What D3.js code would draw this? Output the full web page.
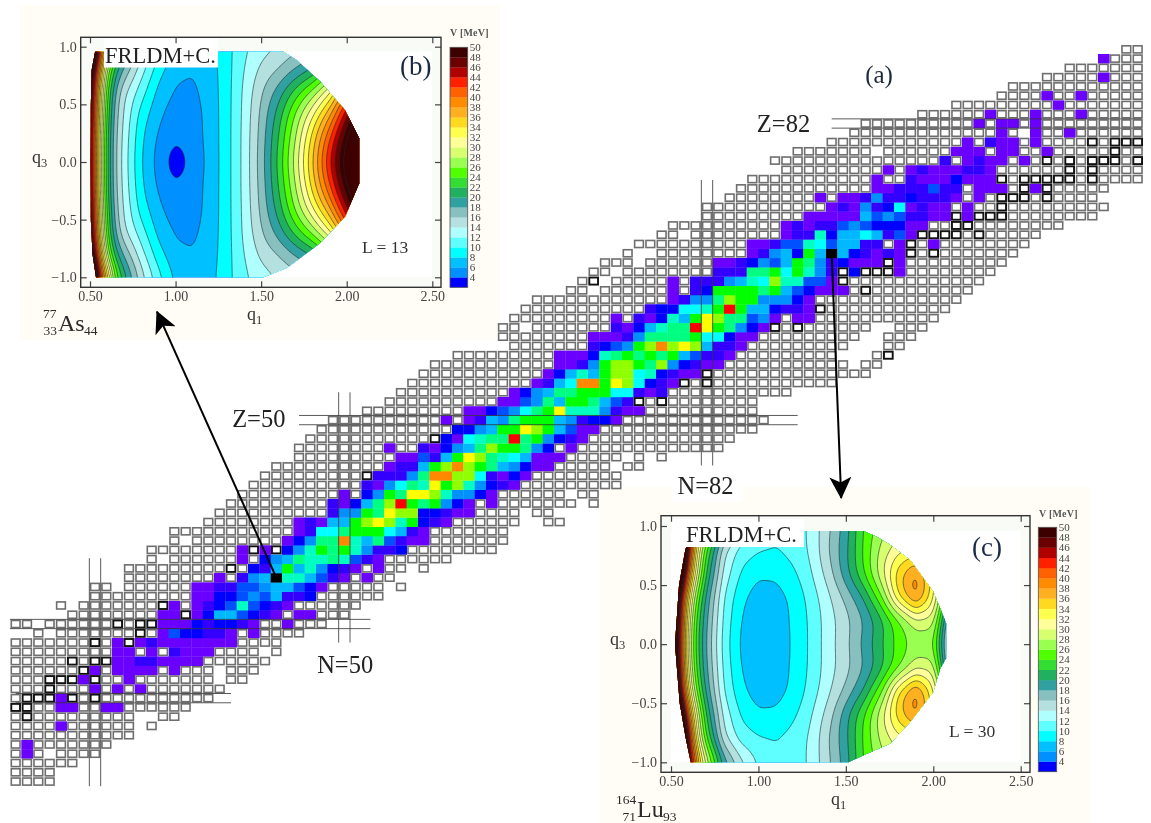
<!DOCTYPE html>
<html><head><meta charset="utf-8">
<style>html,body{margin:0;padding:0;background:#fff}svg{display:block;filter:blur(.4px)}text{font-family:"Liberation Serif",serif}</style>
<script src="https://cdn.jsdelivr.net/npm/d3@7"></script></head><body>
<svg id="fig" width="1151" height="823"></svg>
<script>
// ---------- main chart: one row per proton number Z: [Z, first N, cell codes]
// '-' measured nucleus, '#' highlighted nucleus, ' ' none, letters = value class, K = selected nucleus
const nuclideRows = [
[11,21,"----"],[12,21,"----"],[13,21,"------"],[14,21,"-p- ----"],[15,21,"-p-------"],[16,21,"-----------"],
[17,21,"----p------ -"],[18,21,"-#---------  --"],[19,21,"##--pp--pp------"],[20,21,"-###p#-#----------"],
[21,21,"---#---p-p-p-------"],[22,21,"---###p#--p------- --"],[23,21,"------#p-pppp-p--- ---"],
[24,21,"-----#-##ppiipppp------"],[25,21,"---------pp-p-ippp---- -"],[26,21,"-------#-p#pippppppp----"],
[27,23,"- -------#-pabbiip-p----"],[28,21,"-- ------#-##pppbibbip--p---"],[29,26,"--------pp#pbssabip-pp---"],
[30,25,"- -------#p-pibatabip------"],[31,28,"---------ppbbazasiib------"],[32,28,"-- ------ppiiaazssabp----- -"],
[33,31,"--------p-izsKttsaip-p--"],[34,31,"---------#-bisgstzbip-p-- -"],[35,33,"- ------p-bzsmttmtaip------"],
[36,33,"--------p#p#bztgmgtziib--------"],[37,35,"- --------pbzmmotsmaipp-------"],
[38,35,"-----------piccmgggcsip-------"],[39,38,"--------pipssglyltgbip------  --"],
[40,39,"----------izzgmyllbbipp---- --"],[41,40,"---------ipbsmlrgmgzbp-p------- -"],
[42,41,"---------p-bzgmyyltzzbp------ --"],[43,42,"----------ipzcmtygltzbip---------"],
[44,43,"---------#iiizmoollcipbp--------"],[45,44,"----------piisglolgmszbpp----- --"],
[46,46,"---------ppaisgylmtcsppp----- - -"],[47,46,"--------p--ipbzsmlggmzb-p-------------"],
[48,47,"-----------#bpctmmrmgzbip-------------"],[49,48,"------------bbzsggylgsapp--------------"],
[50,49,"----------p-piszmgggszibbp-------------"],[51,52,"---------ppbazcmgytttzipp----------"],
[52,54,"----------ppazmsggmsai#-#--------"],[53,55,"----------pbzsmmgggccipi-----------"],
[54,56,"-----------piscoogylcbip#-#-----------"],[55,57,"-----------pbstsgllctbipp#--------------"],
[56,58,"-----------ppizgllgmlzbipp----------- --"],[57,60,"---------pppbtmgmgmgsaiip---------   -#"],
[58,65,"-------ibazglolylsiip---------   --"],[59,64,"--------pppizmmmmgccbpp---------  ---"],
[60,64,"-- -------ipbstmmrygmzbp#-#------  ---"],[61,65,"---------p-ipbtsgylmmazp-pp-----------"],
[62,66,"-----------ibbcctgrgssbiip#-----------"],[63,67,"------------pizzmlggzzzbp-------------"],
[64,70,"-- ------p-ibggggmgsabppp-#---------"],[65,71,"-# -----p-iiizstclttaap#------------"],
[66,72,"-- --------iiimmgcgtzi#b###p--------"],[67,73,"--- ------ppibzasgmzibppp#p---------"],
[68,75,"-  --------pizsbgsKsbipip#-#-------"],[69,76,"----------ppiaatcassii-p#-p--------"],
[70,78,"-- --------piitbsscsiap####-#-----"],[71,79,"----------pipiiazabbbpp--##--------"],
[72,82,"---------pppppsazaiipp#p###--------"],[73,82,"-----------pipzibcpipp-p--#---------"],
[74,84,"--------p-ppiziibiiip-p-###-#----"],[75,85,"------------ppiiiaii-ppp-#p#-----"],
[76,86,"-----------p--ipppbppp#-#####-#----"],[77,89,"---------p-pipppiip------#-#----"],
[78,88,"---------------i-pipp-p-#-#-###-#"],[79,90,"------- ------ppp-pp--p-----#--"],
[80,93,"------------p-ipp-p----#-###"],[81,95,"-------------p- p--p------"],
[82,96,"----------p-pp-p---------"],[83,101,"------p---p---p-----"],[84,104,"---------p-------"],
[85,108,"----p--p-----"],[86,109,"------------"],[87,112,"-----p---"],[88,114,"-------"],[89,117,"p---"],[90,119,"--"]
];
const valueCodes  = ["p","i","b","a","z","s","c","t","m","g","l","y","o","r","K"];
const valueColors = ["#6a00ff","#3300ff","#0000ff","#0050ff","#0090ff","#00b8ff","#00ffff","#00ffc0","#00ff80","#00ff00","#90ff00","#ffff00","#ff8800","#ff0000","#000000"];
const shellN = [{n:28,y0:10.5,y1:35.1},{n:50,y0:26,y1:53},{n:82,y0:45.1,y1:75.9}];
const shellZ = [{z:20,x0:21,x1:40},{z:28,x0:20.5,x1:52.3},{z:50,x0:46,x1:90},{z:82,x0:93,x1:120.4}];
const arrows = [{from:[44,33],to:[33.47,61.7]},{from:[93,68],to:[93.84,41.6]}];
const mainLabels = [{t:"Z=50",n:40.1,z:49.25},{t:"Z=82",n:86.4,z:81.07},{t:"N=50",n:47.6,z:22.7},{t:"N=82",n:79.4,z:42},{t:"(a)",n:95.96,z:86.4}];

// ---------- contour panels
const levels = d3.range(4,52,2);
const bandColors = ["#0000ff","#0090ff","#00c0ff","#00ffff","#60ffff","#b0ffff","#b4e0e0","#88c0c0","#30a0a0","#20b060","#33dd33","#50ff00","#99ff50","#d8ff70","#ffff99","#ffff50","#ffd820","#ffb020","#ff8c00","#ff6000","#ff2000","#b00000","#6a0000","#3c0000"];
const q1Nodes = [.5,.55,.6,.65,.7,.8,.9,1,1.1,1.2,1.3,1.4,1.5,1.6,1.7,1.8,1.9,2,2.1];
const q3Nodes = [0,.2,.4,.6,.8,1];
const potentialB = [
[50,34,22,16,13,8,5.2,2.6,4.6,6.6,9.2,12.6,17,22.5,29,36,44,52,60],
[50,34,22,16.2,13.2,8.3,5.6,4.4,5,6.7,9.2,12.6,16.8,22,28,35,42,50,58],
[51,35,23,16.6,13.6,9,6.4,4.8,5.1,6.7,9.2,12.5,16.5,21,26.5,32,38,46,54],
[52,36,24,17.5,14.2,10.8,7.3,5.8,5.6,6.8,9.2,12.4,15.8,19,23,27,32,40,48],
[54,40,27,20.5,17.5,12.8,8.8,6.4,6.1,7,9.2,12,14.5,16,18,20,24,30,38],
[70,46,36,25.5,21,15,10.8,7.6,6.9,7.3,9.3,11.5,13,14,15,16,18,22,30]];
const potentialC = [
[60,45,30,22.5,18,11.2,7.6,6.6,6.9,8.2,10.4,13.1,15.5,18.6,21.8,24.8,26.5,26,12],
[62,46,31,23,18.5,11.6,7.9,6.8,7,8.3,10.4,13,15.2,17.8,21,25,29,29,14],
[70,47,34,25,19.5,12,8.5,6.9,7.2,8.4,10.8,13.5,16.5,20,25.5,34.5,39.5,33,20],
[80,58,40,30,22,13.5,9.8,8.4,8.4,9.6,11.8,15,19.4,24,29.5,35.5,39,33,20],
[90,70,45,32,24,14.5,11,10.2,10,10.8,12.4,16,19.5,24.3,28.5,31,32,30,25],
[80,65,50,38,30,19.5,14.8,11.8,10.5,10.6,12.5,15.5,19,24,27,29,30,30,30]];
const domainB = [[.53,.957],[.51,.8],[.505,.5],[.503,0],[.505,-.5],[.515,-.8],[.535,-1],[1.512,-1],[1.65,-.92],[1.843,-.705],[1.99,-.474],[2.073,-.185],[2.073,.205],[1.99,.45],[1.843,.7],[1.707,.884],[1.63,.957]];
const domainC = [[.62,.957],[.582,.8],[.546,.5],[.523,0],[.55,-.5],[.585,-.8],[.613,-1],[1.515,-1],[1.62,-.927],[1.754,-.84],[1.868,-.658],[2,-.404],[2.04,-.206],[2.074,-.12],[2.074,.175],[2.04,.302],[2,.443],[1.868,.712],[1.754,.839],[1.677,.91],[1.6,.957]];
const q1Ticks = [.5,1,1.5,2,2.5];
const q3Ticks = [-1,-.5,0,.5,1];

const panels = [
 {id:"b",V:potentialB,dom:domainB,bg:[20,5,480,335],frame:[80.7,37.3,441,287.3],q1:[90,432.3],q3:[277.3,46.7],
  bar:[450,467.7,47.3,287.3],barTitle:[450,35.5],
  mask:[104,38.5,114,29],frldm:[105,63],tag:["(b)",400,75],ell:["L = 13",362,253],
  q3lab:[32,163],q1lab:[247,320],
  iso:{A:"77",Z:"33",S:"As",N:"44",ax:43,as:58,an:84,ab:318,sb:331,zb:335}},
 {id:"c",V:potentialC,dom:domainC,bg:[600,487,490,336],frame:[661,515.7,1030,772.3],q1:[831,805],q3:[762.3,526],
  bar:[1038.3,1056.7,527.3,771.7],barTitle:[1039,517],
  mask:[672,519,132,28],frldm:[686,542.3],tag:["(c)",972,556],ell:["L = 30",949,736.7],
  q3lab:[610,645],q1lab:[831,805],
  iso:{A:"164",Z:"71",S:"Lu",N:"93",ax:616,as:637,an:663,ab:804,sb:816.7,zb:821}}
];
panels[1].q1=[671,1020.7];

const svg = d3.select("#fig");
const x = d3.scaleLinear([28,82],[95,707]);
const y = d3.scaleLinear([28,82],[624,123.5]);
const cw = x(1)-x(0), ch = y(0)-y(1);
const colour = d3.scaleOrdinal(valueCodes,valueColors);

// cream panel backgrounds first
panels.forEach(p=>svg.append("rect").attr("x",p.bg[0]).attr("y",p.bg[1]).attr("width",p.bg[2]).attr("height",p.bg[3]).attr("fill","#fffdf6"));
svg.append("rect").attr("x",x(79.4)-5).attr("y",y(42)-24).attr("width",70).attr("height",32).attr("fill","#fff");

// main chart cells
const cells = nuclideRows.flatMap(([z,n0,s])=>Array.from(s,(c,i)=>({z,n:n0+i,c})).filter(d=>d.c!==" "));
const g = svg.append("g");
g.selectAll(".filled").data(cells.filter(d=>valueCodes.includes(d.c))).join("rect").attr("class","filled")
 .attr("x",d=>x(d.n)-cw/2).attr("y",d=>y(d.z)-ch/2).attr("width",cw+.3).attr("height",ch+.3).attr("fill",d=>colour(d.c));
g.selectAll(".box").data(cells.filter(d=>d.c==="-"||d.c==="#")).join("rect").attr("class","box")
 .attr("x",d=>x(d.n)-cw/2+1.3).attr("y",d=>y(d.z)-ch/2+1.1).attr("width",cw-2.6).attr("height",ch-2.2)
 .attr("fill","#fff").attr("stroke",d=>d.c==="#"?"#111":"#6e6e6e").attr("stroke-width",d=>d.c==="#"?1.9:1.6);

// shell closure lines
g.selectAll(".ln").data(shellN.flatMap(s=>[-.5,.5].map(o=>({...s,o})))).join("line").attr("class","ln")
 .attr("x1",d=>x(d.n+d.o)).attr("x2",d=>x(d.n+d.o)).attr("y1",d=>y(d.y1)).attr("y2",d=>y(d.y0))
 .attr("stroke","#333").attr("stroke-width",1).attr("opacity",.8);
g.selectAll(".lz").data(shellZ.flatMap(s=>[-.5,.5].map(o=>({...s,o})))).join("line").attr("class","lz")
 .attr("y1",d=>y(d.z+d.o)).attr("y2",d=>y(d.z+d.o)).attr("x1",d=>x(d.x0)).attr("x2",d=>x(d.x1))
 .attr("stroke","#333").attr("stroke-width",1).attr("opacity",.8);

g.selectAll(".ml").data(mainLabels).join("text").attr("class","ml").attr("x",d=>x(d.n)).attr("y",d=>y(d.z))
 .attr("font-size",d=>d.t==="(a)"?25:24.5).attr("fill",d=>d.t==="(a)"?"#1c2a3c":"#222").text(d=>d.t);

// contour panels
function lookup(V,q1,q3){
  const a=Math.abs(q3), clampI=(arr,v)=>{const i=Math.min(arr.length-2,Math.max(0,d3.bisectRight(arr,v)-1));return [i,Math.max(0,Math.min(1,(v-arr[i])/(arr[i+1]-arr[i])))]};
  const [i,t]=clampI(q1Nodes,q1),[j,u]=clampI(q3Nodes,a);
  return (V[j][i]*(1-t)+V[j][i+1]*t)*(1-u)+(V[j+1][i]*(1-t)+V[j+1][i+1]*t)*u;
}
panels.forEach(p=>{
  const gp=svg.append("g");
  const X=d3.scaleLinear([.5,2.5],p.q1), Y=d3.scaleLinear([-1,1],p.q3);
  const [fx0,fy0,fx1,fy1]=p.frame;
  gp.append("rect").attr("x",fx0).attr("y",fy0).attr("width",fx1-fx0).attr("height",fy1-fy0).attr("fill","#f9fbf6");
  gp.append("rect").attr("x",X(.5)).attr("y",Y(.96)).attr("width",X(2.5)-X(.5)).attr("height",Y(-1)-Y(.96)).attr("fill","#fff");
  // fine grid from the values
  const nx=171,ny=221,q1At=i=>.45+i*.01,q3At=j=>-1.1+j*.01;
  let data=new Float64Array(nx*ny);
  for(let j=0;j<ny;j++)for(let i=0;i<nx;i++)data[j*nx+i]=lookup(p.V,q1At(i),q3At(j));
  if(d3.blur2){d3.blur2({data,width:nx,height:ny},1.5,7);}
  const contours=d3.contours().size([nx,ny]).thresholds(levels)(data);
  const proj=d3.geoTransform({point(a,b){this.stream.point(X(q1At(a-.5)),Y(q3At(b-.5)));}});
  const path=d3.geoPath(proj);
  const clipId="clip"+p.id;
  svg.append("clipPath").attr("id",clipId).append("path").attr("d",d3.line(d=>X(d[0]),d=>Y(d[1])).curve(d3.curveLinearClosed)(p.dom));
  const cg=gp.append("g").attr("clip-path",`url(#${clipId})`);
  cg.append("rect").attr("x",X(.45)).attr("y",Y(1.1)).attr("width",X(2.2)-X(.45)).attr("height",Y(-1.1)-Y(1.1)).attr("fill",bandColors[0]);
  cg.selectAll("path").data(contours).join("path").attr("d",path)
    .attr("fill",(d,i)=>bandColors[Math.min(i+1,bandColors.length-1)]).attr("stroke","#1c2a2a").attr("stroke-width",.7).attr("stroke-opacity",.85).attr("stroke-linejoin","round");
  // label mask
  gp.append("rect").attr("x",p.mask[0]).attr("y",p.mask[1]).attr("width",p.mask[2]).attr("height",p.mask[3]).attr("fill","#fff");
  gp.append("text").attr("x",p.frldm[0]).attr("y",p.frldm[1]).attr("font-size",22.5).attr("fill","#222").text("FRLDM+C.");
  // frame and axes
  const style=s=>{s.selectAll(".domain").remove();s.selectAll("line").attr("stroke","#444").attr("stroke-width",1.2);
    s.selectAll("text").attr("font-size",14).attr("fill","#444").attr("font-family","Liberation Serif");};
  gp.append("g").attr("transform",`translate(0,${fy1})`).call(d3.axisBottom(X).tickValues(q1Ticks).tickFormat(d3.format(".2f")).tickSize(-6).tickPadding(4)).call(style);
  gp.append("g").attr("transform",`translate(0,${fy0})`).call(d3.axisTop(X).tickValues(q1Ticks).tickFormat("").tickSize(-6)).call(style);
  gp.append("g").attr("transform",`translate(${fx0},0)`).call(d3.axisLeft(Y).tickValues(q3Ticks).tickFormat(d3.format(".1f")).tickSize(-6).tickPadding(4)).call(style);
  gp.append("g").attr("transform",`translate(${fx1},0)`).call(d3.axisRight(Y).tickValues(q3Ticks).tickFormat("").tickSize(-6)).call(style);
  gp.append("rect").attr("x",fx0).attr("y",fy0).attr("width",fx1-fx0).attr("height",fy1-fy0).attr("fill","none").attr("stroke","#333").attr("stroke-width",1.4);
  // colour bar
  const [bx0,bx1,by0,by1]=p.bar;
  const B=d3.scaleLinear([2,50],[by1,by0]);
  gp.selectAll(".seg").data(bandColors).join("rect").attr("class","seg").attr("x",bx0).attr("width",bx1-bx0)
    .attr("y",(d,i)=>B(4+2*i)).attr("height",(d,i)=>B(2+2*i)-B(4+2*i)+.2).attr("fill",d=>d);
  gp.append("rect").attr("x",bx0).attr("y",by0).attr("width",bx1-bx0).attr("height",by1-by0).attr("fill","none").attr("stroke","#555").attr("stroke-width",.8);
  gp.selectAll(".bl").data(levels).join("text").attr("class","bl").attr("x",bx1+2).attr("y",d=>B(d)+3.8)
    .attr("font-size",11).attr("fill","#444").text(d=>d);
  gp.append("text").attr("x",p.barTitle[0]).attr("y",p.barTitle[1]).attr("font-size",10).attr("font-weight","bold").attr("fill","#555").attr("letter-spacing",".2").text("V [MeV]");
  // annotations
  gp.append("text").attr("x",p.tag[1]).attr("y",p.tag[2]).attr("font-size",27).attr("fill","#1a2a44").text(p.tag[0]);
  gp.append("text").attr("x",p.ell[1]).attr("y",p.ell[2]).attr("font-size",17.5).attr("fill","#333").text(p.ell[0]);
  const ql=(pos,s,sub)=>{const t=gp.append("text").attr("x",pos[0]).attr("y",pos[1]).attr("font-size",18).attr("fill","#333");t.append("tspan").text(s);t.append("tspan").attr("dy",4).attr("font-size",12.5).text(sub);};
  ql(p.q3lab,"q","3");ql(p.q1lab,"q","1");
  const is=p.iso, tx=(xx,yy,fs,s)=>gp.append("text").attr("x",xx).attr("y",yy).attr("font-size",fs).attr("fill","#2a2a2a").text(s);
  tx(is.ax,is.ab,13.5,is.A);tx(is.as-14.5,is.zb,13.5,is.Z);tx(is.as,is.sb,24,is.S);tx(is.an,is.zb,13.5,is.N);
});
const head=svg.append("defs").append("marker").attr("id","ah").attr("viewBox","0 0 10 10").attr("refX",9.5).attr("refY",5)
  .attr("markerWidth",22).attr("markerHeight",22).attr("markerUnits","userSpaceOnUse").attr("orient","auto");
head.append("path").attr("d","M0,0 L10,5 L0,10 L2.5,5 Z").attr("fill","#000");
svg.selectAll(".arrow").data(arrows).join("line").attr("class","arrow")
 .attr("x1",d=>x(d.from[0])).attr("y1",d=>y(d.from[1])).attr("x2",d=>x(d.to[0])).attr("y2",d=>y(d.to[1]))
 .attr("stroke","#000").attr("stroke-width",2).attr("marker-end","url(#ah)");
</script></body></html>
